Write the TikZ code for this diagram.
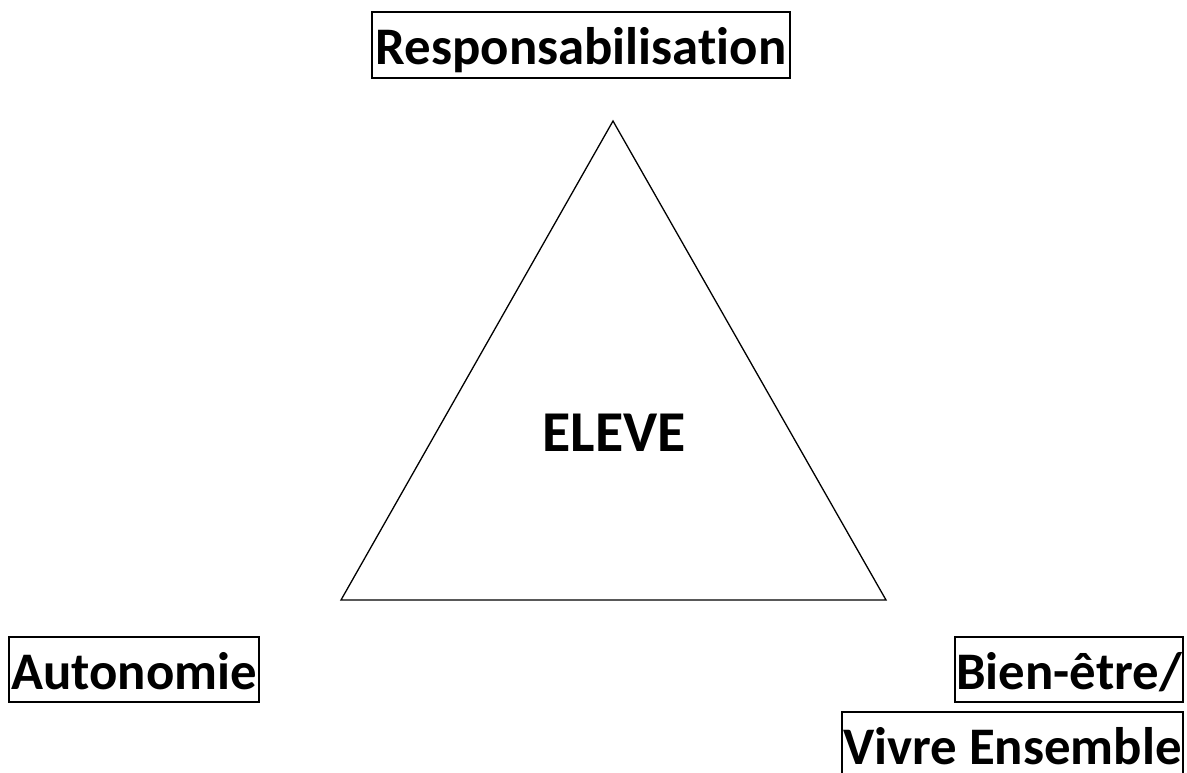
\documentclass[tikz,border=0pt]{standalone}
\usepackage{fontspec}
\setmainfont[Ligatures={NoCommon}]{Carlito}
\usetikzlibrary{positioning}

\begin{document}
\begin{tikzpicture}[
    x=1bp, y=-1bp,
    bigfont/.style={font=\fontsize{53}{60}\selectfont\bfseries},
    lblbox/.style={bigfont, draw, line width=2bp, inner sep=0pt, text height=45bp, text depth=5bp},
    tri/.style={line width=1.3bp}
]
\useasboundingbox (0,0) rectangle (1187,773);
\clip (0,0) rectangle (1187,773);

% triangle
\coordinate (top) at (613,121);
\coordinate (left) at (341,600);
\coordinate (right) at (886,600);
\draw[tri] (top) -- (left) -- (right) -- cycle;

\node[font=\fontsize{58}{64}\selectfont\bfseries, anchor=base] (eleve) at (614,451) {ELEVE};

% labels
\node[lblbox, minimum width=418bp, minimum height=66bp] (resp) at (581,45) {Responsabilisation};
\node[lblbox, minimum width=250bp, minimum height=65bp] (auto) at (134,669.5) {Autonomie};
\node[lblbox, minimum width=228bp, minimum height=65bp] (bien) at (1069,669.5) {Bien-être/};
\node[lblbox, minimum width=341bp, minimum height=65bp] (vivre) at (1012.5,744.5) {Vivre Ensemble};
\end{tikzpicture}
\end{document}
